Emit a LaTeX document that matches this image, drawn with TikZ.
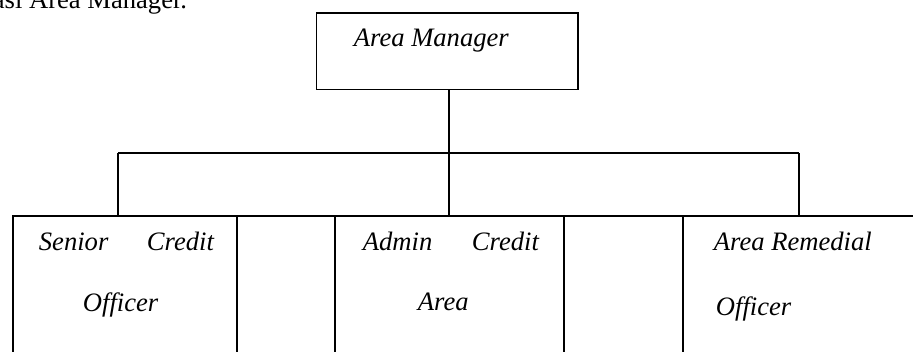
\documentclass[tikz,border=0pt]{standalone}
\usepackage{fontspec}
\setmainfont{Liberation Serif}

\begin{document}
\begin{tikzpicture}[x=1pt, y=-1pt, line width=1.8pt,
  cellbox/.style={draw, rectangle, inner sep=0pt, anchor=north west},
  lbl/.style={inner sep=0pt, anchor=base west, font=\fontsize{26.6}{32}\selectfont\itshape}]
\useasboundingbox (0,0) rectangle (913,351);
\clip (0,0) rectangle (913,351);
% heading line, cut by the page edge
\node[inner sep=0pt, anchor=base east, font=\fontsize{26.6}{32}\selectfont] (head) at (188,8) {asi Area Manager.};
% top box
\node[cellbox, minimum width=261.5pt, minimum height=76.5pt] (mgr) at (315.5,12) {};
\node[lbl] (mgrtxt) at (353,46.7) {Area Manager};
% bottom row
\node[cellbox, minimum width=224pt, minimum height=150pt] (sco) at (12,215) {};
\node[cellbox, minimum width=98pt, minimum height=150pt] (gapa) at (236,215) {};
\node[cellbox, minimum width=229pt, minimum height=150pt] (aca) at (334,215) {};
\node[cellbox, minimum width=119pt, minimum height=150pt] (gapb) at (563,215) {};
\node[cellbox, minimum width=250pt, minimum height=150pt] (aro) at (682,215) {};
\node[lbl] (scotxt) at (38,250) {\hbox to 175pt{Senior\hfill Credit}};
\node[lbl] (scotxtb) at (82,311) {Officer};
\node[lbl] (acatxt) at (362,250) {\hbox to 176pt{Admin\hfill Credit}};
\node[lbl] (acatxtb) at (417,310) {Area};
\node[lbl] (arotxt) at (713,250) {Area Remedial};
\node[lbl] (arotxtb) at (715,315) {Officer};
% connectors
\coordinate (da) at (118,153);
\coordinate (db) at (449,153);
\coordinate (dc) at (799,153);
\draw (mgr.south -| db) -- (db);
\draw (da) -- (dc);
\draw (da) -- (da |- sco.north);
\draw (db) -- (db |- aca.north);
\draw (dc) -- (dc |- aro.north);
\end{tikzpicture}
\end{document}
